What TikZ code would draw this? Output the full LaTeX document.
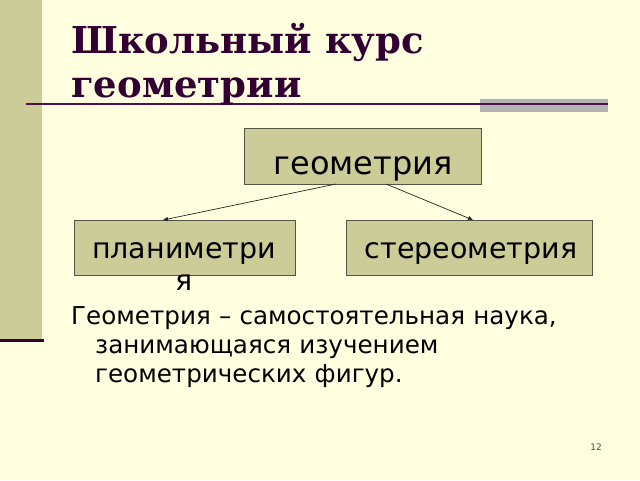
\documentclass[tikz,border=0pt]{standalone}
\usepackage{fontspec}
\setmainfont{DejaVu Sans}
\newfontfamily\titlefont{DejaVu Serif}
\usetikzlibrary{arrows.meta}
\definecolor{bg}{RGB}{255,255,224}
\definecolor{olivebar}{RGB}{204,204,153}
\definecolor{plum}{RGB}{51,0,51}
\definecolor{linep}{RGB}{80,16,80}
\definecolor{grayr}{RGB}{178,178,178}
\definecolor{boxline}{RGB}{85,85,68}
\begin{document}
\begin{tikzpicture}[x=1pt,y=-1pt,
  box/.style={draw=boxline, line width=1pt, fill=olivebar, inner sep=0pt, anchor=north west},
  boxtxt/.style={anchor=base, inner sep=0pt, text=black},
  conn/.style={draw=black!85, line width=0.7pt, -{Triangle[length=5pt,width=4pt]}},
]
\fill[bg] (0,0) rectangle (640,480);
\useasboundingbox (0,0) rectangle (640,480);
% left bar
\fill[olivebar] (0,0) rectangle (42,339);
\fill[plum] (0,339) rectangle (44,342);
% title rule
\fill[grayr] (480,99) rectangle (608,112);
\draw[linep, line width=1.5pt] (26,104) -- (608,104);
% title (base = last line)
\node[anchor=base west, inner sep=0pt, text=plum, align=left,
      font=\titlefont\bfseries\fontsize{37}{44}\selectfont] (title) at (71,97)
      {Школьный курс\\геометрии};
% boxes
\node[box, minimum width=237pt, minimum height=56pt] (geo) at (244,128) {};
\node[box, minimum width=221pt, minimum height=55pt] (plan) at (74,220) {};
\node[box, minimum width=246pt, minimum height=55pt] (stereo) at (346,220) {};
\node[boxtxt, font=\fontsize{32}{38}\selectfont] (geot) at (363,174) {геометрия};
\node[boxtxt, align=center, font=\fontsize{28.5}{32}\selectfont] (plant) at (184,290) {планиметри\\я};
\node[boxtxt, font=\fontsize{28.5}{32}\selectfont] (stereot) at (471,258) {стереометрия};
% connectors
\coordinate (g1) at (336,184);
\coordinate (g2) at (386,184);
\coordinate (p1) at (163,220);
\coordinate (s1) at (473,220);
\draw[conn] (g1) -- (p1);
\draw[conn] (g2) -- (s1);
% body text
\node[anchor=base west, inner sep=0pt, text width=540pt, font=\fontsize{24.6}{29}\selectfont] (body) at (71,324)
  {\raggedright Геометрия – самостоятельная наука,\newline
   \hspace*{24pt}занимающаяся изучением\newline
   \hspace*{24pt}геометрических фигур.};
% page number
\node[anchor=base, inner sep=0pt, text=black!70, font=\fontsize{9}{11}\selectfont] (pnum) at (596,450) {12};
\end{tikzpicture}
\end{document}
